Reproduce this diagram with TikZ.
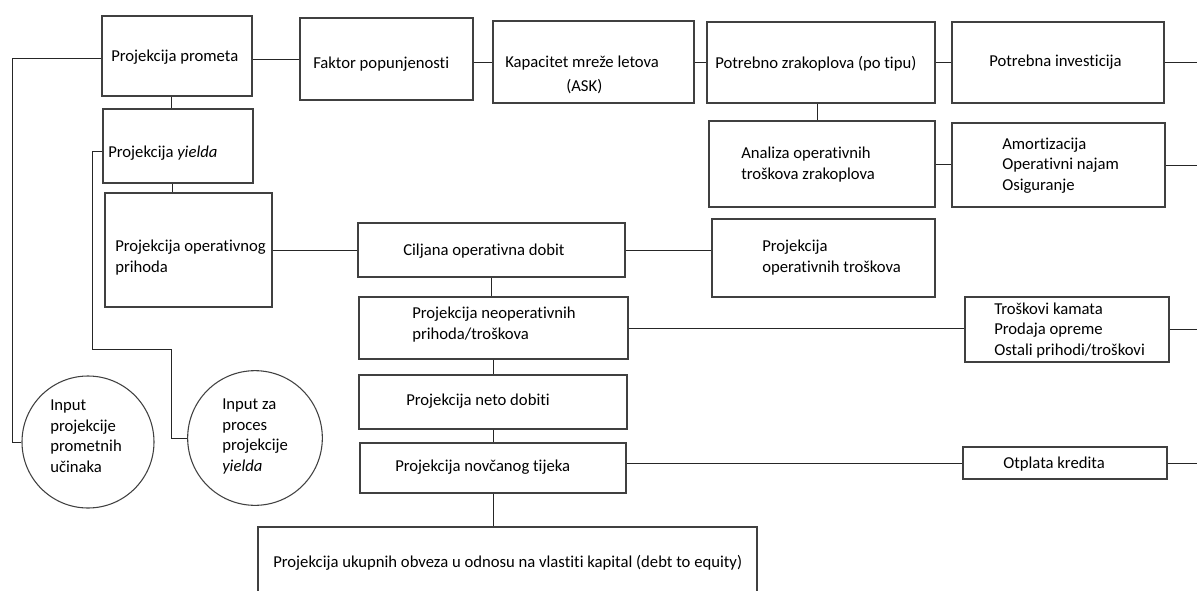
\documentclass[tikz,border=0pt]{standalone}
\usepackage{fontspec}
\setmainfont{Carlito}[Ligatures=NoCommon]
\usetikzlibrary{positioning}
\usetikzlibrary{fit}
\tikzset{
  box/.style={rectangle, draw=black!75, line width=0.9pt, inner sep=0pt},
  krug/.style={circle, draw=black!75, line width=0.8pt, inner sep=0pt},
  txt/.style={anchor=base west, inner sep=0pt, align=left, font=\fontsize{12.5}{15.3}\selectfont},
  veza/.style={draw=black!85, line width=0.75pt}
}
\begin{document}
\begin{tikzpicture}[x=0.75pt,y=-0.75pt]
        \useasboundingbox (0,0) rectangle (1197,590);

        \node[box, fit={(102,16) (252,96)}]   (prometa) {};       \node[txt] (prometaT) at (111,61) {Projekcija prometa};
        \node[box, fit={(300,18) (473,100)}]  (faktor) {};        \node[txt] (faktorT) at (313,68) {Faktor popunjenosti};
        \node[box, fit={(493,21) (694,103)}]  (kapacitet) {};     \node[txt] (kapacitetT) at (505,67) {Kapacitet mreže letova};
                                                                  \node[txt] (askT) at (566,91) {(ASK)};
        \node[box, fit={(707,22) (935,103)}]  (zrakoplovi) {};    \node[txt] (zrakoploviT) at (715,68) {Potrebno zrakoplova (po tipu)};
        \node[box, fit={(952,22) (1164,103)}] (investicija) {};   \node[txt] (investicijaT) at (989,66) {Potrebna investicija};
        \node[box, fit={(709,121) (935,207)}] (analiza) {};       \node[txt] (analizaT) at (741,179) {Analiza operativnih\\troškova zrakoplova};
        \node[box, fit={(952,123) (1165,207)}] (amortizacija) {}; \node[txt] (amortizacijaT) at (1002,190) {Amortizacija\\Operativni najam\\Osiguranje};
        \node[box, fit={(103,109) (253,183)}] (yielda) {};        \node[txt] (yieldaT) at (108,157) {Projekcija \textit{yielda}};
        \node[box, fit={(105,193) (272,307)}] (prihod) {};        \node[txt] (prihodT) at (115,272) {Projekcija operativnog\\prihoda};
        \node[box, fit={(358,223) (625,277)}] (ciljana) {};       \node[txt] (ciljanaT) at (403,255) {Ciljana operativna dobit};
        \node[box, fit={(712,219) (935,297)}] (troskovi) {};      \node[txt] (troskoviT) at (762,272) {Projekcija\\operativnih troškova};
        \node[box, fit={(359,297) (628,359)}] (neoper) {};        \node[txt] (neoperT) at (412,339) {Projekcija neoperativnih\\prihoda/troškova};
        \node[box, fit={(965,297) (1169,362)}] (ostalo) {};       \node[txt] (ostaloT) at (994,355) {Troškovi kamata\\Prodaja opreme\\Ostali prihodi/troškovi};
        \node[box, fit={(359,375) (627,429)}] (neto) {};          \node[txt] (netoT) at (406,405) {Projekcija neto dobiti};
        \node[box, fit={(360,443) (626,493)}] (tijek) {};         \node[txt] (tijekT) at (395,471) {Projekcija novčanog tijeka};
        \node[box, fit={(963,447) (1167,479)}] (otplata) {};      \node[txt] (otplataT) at (1003,468) {Otplata kredita};
        \node[box, fit={(258,527) (757,600)}] (obveze) {};        \node[txt] (obvezeT) at (273,567) {Projekcija ukupnih obveza u odnosu na vlastiti kapital (debt to equity)};

        \node[krug, minimum size=99pt]  (krugA) at (88,442) {};   \node[txt] (krugAT) at (50,472) {Input\\projekcije\\prometnih\\učinaka};
        \node[krug, minimum size=101pt] (krugB) at (255,438) {};  \node[txt] (krugBT) at (222,471) {Input za\\proces\\projekcije\\\textit{yielda}};

        \coordinate (rub) at (1197,0);
        \coordinate (lijevoA) at (12,0);
        \coordinate (lijevoB) at (92,349);
        \coordinate (lijevoC) at (171,349);

        \draw[veza] (faktor.west -| prometa.east) -- (faktor.west);
        \draw[veza] (kapacitet.west -| faktor.east) -- (kapacitet.west);
        \draw[veza] (kapacitet.east) -- (kapacitet.east -| zrakoplovi.west);
        \draw[veza] (zrakoplovi.east) -- (zrakoplovi.east -| investicija.west);
        \draw[veza] (investicija.east) -- (investicija.east -| rub);
        \draw[veza] ([xshift=-3pt]zrakoplovi.south) -- ([xshift=-3pt]zrakoplovi.south |- analiza.north);
        \draw[veza] (analiza.east) -- (analiza.east -| amortizacija.west);
        \draw[veza] (amortizacija.east) -- (amortizacija.east -| rub);

        \draw[veza] ([xshift=-4pt]prometa.south) -- ([xshift=-4pt]prometa.south |- yielda.north);
        \draw[veza] ([xshift=-4pt]yielda.south) -- ([xshift=-4pt]yielda.south |- prihod.north);
        \draw[veza] ([yshift=-2pt]prometa.west) -| (lijevoA |- krugA.west) -- (krugA.west);
        \draw[veza] ([yshift=-3.75pt]yielda.west) -| (lijevoB) -- (lijevoC) |- (krugB.west);

        \draw[veza] (prihod.east) -- (prihod.east -| ciljana.west);
        \draw[veza] (ciljana.east) -- (ciljana.east -| troskovi.west);
        \draw[veza] (ciljana.south) -- (ciljana.south |- neoper.north);
        \draw[veza] (neoper.east) -- (neoper.east -| ostalo.west);
        \draw[veza] (ostalo.east) -- (ostalo.east -| rub);
        \draw[veza] (neoper.south) -- (neoper.south |- neto.north);
        \draw[veza] (neto.south) -- (neto.south |- tijek.north);
        \draw[veza] (otplata.west -| tijek.east) -- (otplata.west);
        \draw[veza] (otplata.east) -- (otplata.east -| rub);
        \draw[veza] (tijek.south) -- (tijek.south |- obveze.north);
\end{tikzpicture}
\end{document}
